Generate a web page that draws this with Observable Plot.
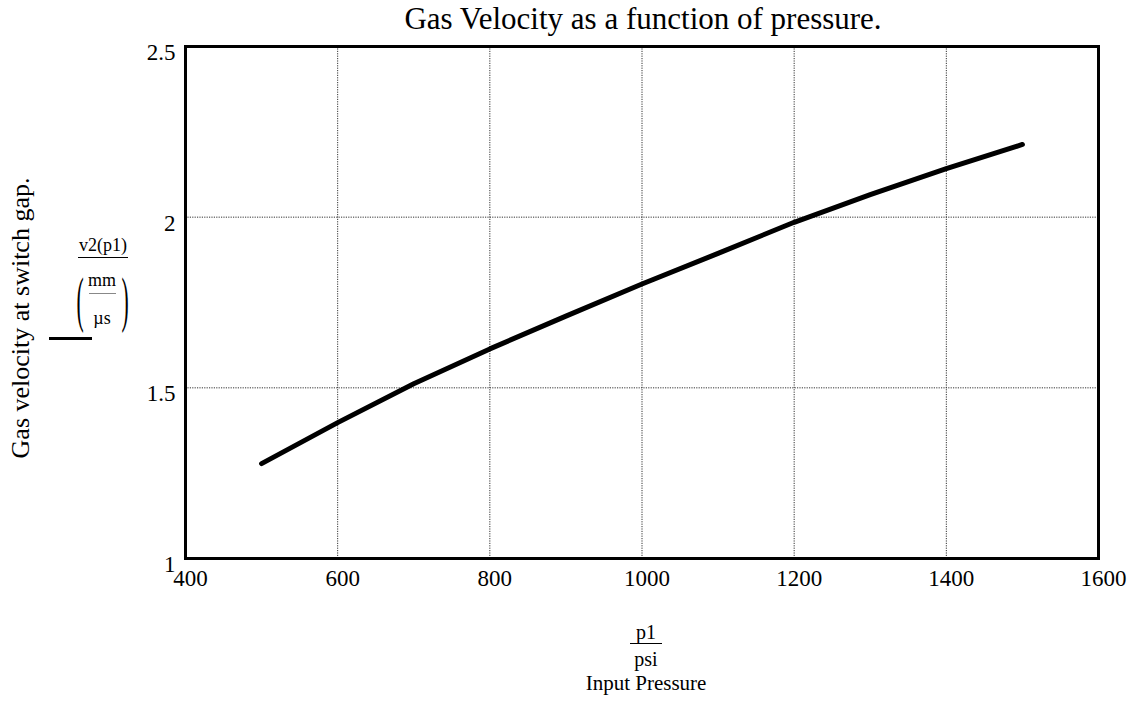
<!DOCTYPE html>
<html>
<head>
<meta charset="utf-8">
<script src="https://cdn.jsdelivr.net/npm/d3@7"></script>
<script src="https://cdn.jsdelivr.net/npm/@observablehq/plot@0.6"></script>
<style>
  html, body { margin: 0; padding: 0; background: #fff; }
  #wrap { position: relative; width: 1133px; height: 704px; overflow: hidden; font-family: "Liberation Serif", "Times New Roman", serif; color: #000; }
  .abs { position: absolute; white-space: nowrap; line-height: 1; }
</style>
</head>
<body>
<div id="wrap"></div>
<script>
// Data
const pressure = [500, 600, 700, 800, 900, 1000, 1100, 1200, 1300, 1400, 1500];
const velocity = [1.278, 1.398, 1.512, 1.614, 1.710, 1.804, 1.894, 1.985, 2.066, 2.142, 2.213];
const xTicks = [400, 600, 800, 1000, 1200, 1400, 1600];
const yTicks = [1, 1.5, 2, 2.5];
const xGrid = [600, 800, 1000, 1200, 1400];
const yGrid = [1.5, 2];
const titleText = "Gas Velocity as a function of pressure.";
const yLabelText = "Gas velocity at switch gap.";
const xLabelText = "Input Pressure";

const data = pressure.map((p, i) => ({p, v: velocity[i]}));

const plot = Plot.plot({
  width: 1133,
  height: 704,
  marginLeft: 185,
  marginRight: 35,
  marginTop: 46,
  marginBottom: 146,
  style: {fontFamily: "'Liberation Serif', 'Times New Roman', serif", fontSize: "23px", color: "#000", background: "#fff"},
  x: {domain: [400, 1600], label: null},
  y: {domain: [1, 2.5], label: null},
  marks: [
    Plot.ruleX(xGrid, {stroke: "#333", strokeWidth: 1, strokeDasharray: "1.2,1.2"}),
    Plot.ruleY(yGrid, {stroke: "#333", strokeWidth: 1, strokeDasharray: "1.2,1.2"}),
    Plot.frame({stroke: "#000", strokeWidth: 3}),
    Plot.axisX({ticks: xTicks, tickFormat: d => String(d), tickSize: 0, tickPadding: 11, dx: 5, label: null, fontSize: 23}),
    Plot.axisY({ticks: yTicks, tickFormat: d => String(d), tickSize: 0, tickPadding: 10, dy: 6, label: null, fontSize: 23}),
    Plot.line(data, {x: "p", y: "v", stroke: "#000", strokeWidth: 5, strokeLinejoin: "round"})
  ]
});

const wrap = document.getElementById("wrap");
wrap.appendChild(plot);

function addText(txt, x, y, size, extra) {
  const d = document.createElement("div");
  d.className = "abs";
  d.textContent = txt;
  d.style.fontSize = size + "px";
  d.style.left = x + "px";
  d.style.top = y + "px";
  if (extra) Object.assign(d.style, extra);
  wrap.appendChild(d);
  return d;
}
function addRule(x, y, w, border) {
  const d = document.createElement("div");
  d.className = "abs";
  Object.assign(d.style, {left: x + "px", top: y + "px", width: w + "px", height: "0", borderTop: border});
  wrap.appendChild(d);
}

// Title
addText(titleText, 643, 18, 31, {transform: "translate(-50%, -50%)"});
// Y axis label (rotated)
addText(yLabelText, 21, 318, 26, {transform: "translate(-50%, -50%) rotate(-90deg)"});

// Y units fraction: v2(p1) / (mm/µs)
addText("v2(p1)", 103, 245, 18, {transform: "translate(-50%, -50%)"});
addRule(78, 257, 50, "1.5px solid #000");
addText("(", 80, 299, 62, {transform: "translate(-50%, -50%) scaleX(0.35)"});
addText(")", 125, 299, 62, {transform: "translate(-50%, -50%) scaleX(0.35)"});
addText("mm", 102, 280, 18, {transform: "translate(-50%, -50%)"});
addRule(89, 293, 27, "1px solid #888");
addText("\u00b5s", 102, 318, 18, {transform: "translate(-50%, -50%)"});
addRule(49, 337, 43, "3px solid #000");

// X units fraction: p1 / psi, then label
addText("p1", 646, 632, 20, {transform: "translate(-50%, -50%)"});
addRule(630, 643, 32, "1.5px solid #000");
addText("psi", 646, 659, 20, {transform: "translate(-50%, -50%)"});
addText(xLabelText, 646, 683, 21, {transform: "translate(-50%, -50%)"});
</script>
</body>
</html>
